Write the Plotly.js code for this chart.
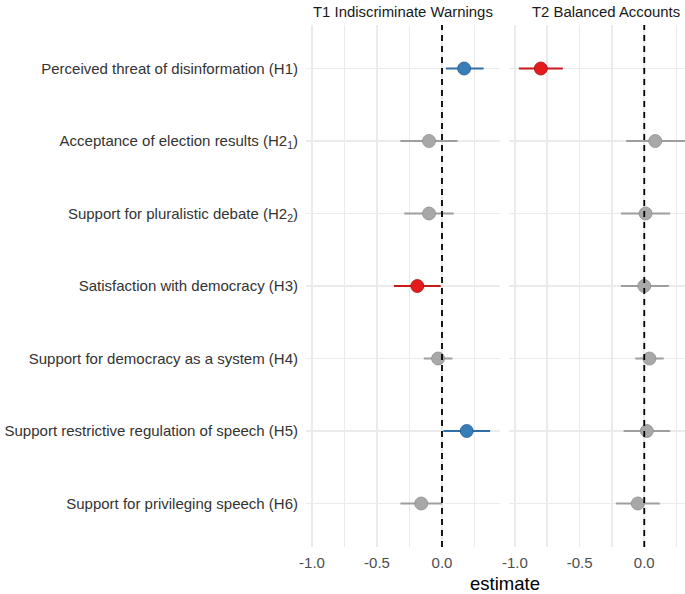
<!DOCTYPE html>
<html>
<head>
<meta charset="utf-8">
<script src="https://cdn.plot.ly/plotly-3.0.1.min.js"></script>
<style>html,body{margin:0;padding:0;background:#fff;overflow:hidden;}</style>
</head>
<body>
<div id="chart" style="width:685px;height:594px;"></div>
<script>
// ---- data ----
const categories = [
  "Perceived threat of disinformation (H1)",
  "Acceptance of election results (H2<sub>1</sub>)",
  "Support for pluralistic debate (H2<sub>2</sub>)",
  "Satisfaction with democracy (H3)",
  "Support for democracy as a system (H4)",
  "Support restrictive regulation of speech (H5)",
  "Support for privileging speech (H6)"
];
const panelTitles = ["T1 Indiscriminate Warnings", "T2 Balanced Accounts"];
const t1Est = [0.17, -0.10, -0.10, -0.19, -0.03, 0.19, -0.16];
const t1Lo  = [0.03, -0.32, -0.29, -0.37, -0.14, 0.01, -0.32];
const t1Hi  = [0.32,  0.12,  0.09, -0.01,  0.08, 0.37,  0.00];
const t2Est = [-0.80, 0.085, 0.01, 0.00, 0.04, 0.02, -0.05];
const t2Lo  = [-0.97, -0.14, -0.18, -0.18, -0.07, -0.16, -0.22];
const t2Hi  = [-0.63, 0.34, 0.20, 0.19, 0.15, 0.20, 0.12];
const xTickVals = [-1, -0.5, 0];
const xTickText = ["-1.0", "-0.5", "0.0"];

// ---- styling ----
const colPos = {fill: "#377EB8", line: "#2F6EA6", edge: "#24588A"};
const colNeg = {fill: "#E41A1C", line: "#C8191B", edge: "#A51214"};
const colNs  = {fill: "#A8A8A8", line: "#9E9E9E", edge: "#8E8E8E"};
const font = "'Liberation Sans', Arial, Helvetica, sans-serif";
const n = categories.length;
const yv = categories.map((_, i) => n - i);

function pick(lo, hi) { return lo > 0 ? colPos : (hi < 0 ? colNeg : colNs); }

const traces = [];
function addPanel(est, lo, hi, xa, ya) {
  for (let i = 0; i < n; i++) {
    const c = pick(lo[i], hi[i]);
    traces.push({
      type: "scatter", mode: "lines", x: [lo[i], hi[i]], y: [yv[i], yv[i]],
      xaxis: xa, yaxis: ya, line: {color: c.line, width: 2}, hoverinfo: "skip", showlegend: false
    });
  }
  for (let i = 0; i < n; i++) {
    const c = pick(lo[i], hi[i]);
    traces.push({
      type: "scatter", mode: "markers", x: [est[i]], y: [yv[i]],
      xaxis: xa, yaxis: ya, cliponaxis: true,
      marker: {color: c.fill, size: 13, line: {color: c.edge, width: 0.8}},
      hoverinfo: "skip", showlegend: false
    });
  }
}
addPanel(t1Est, t1Lo, t1Hi, "x", "y");
addPanel(t2Est, t2Lo, t2Hi, "x2", "y2");

const L = 306, W = 685, T = 25, B = 547;
const pw = W - L;
const d1 = [0, (500 - L) / pw];
const d2 = [(509 - L) / pw, 1];

const xCommon = {
  tickvals: xTickVals, ticktext: xTickText, showgrid: true, gridcolor: "#EBEBEB", gridwidth: 1.6,
  zeroline: false, showline: false, ticks: "", ticklabelstandoff: 5,
  tickfont: {family: font, size: 15, color: "#4D4D4D"},
  minor: {dtick: 0.25, tick0: 0, showgrid: true, gridcolor: "#EBEBEB", gridwidth: 1.6, ticks: ""},
  fixedrange: true
};
const yCommon = {
  range: [0.4, n + 0.6], tickvals: yv, showgrid: true, gridcolor: "#EBEBEB", gridwidth: 1.6,
  zeroline: false, showline: false, ticks: "", fixedrange: true
};

const layout = {
  width: 685, height: 594,
  margin: {l: L, r: 0, t: T, b: 594 - B, pad: 0},
  paper_bgcolor: "#fff", plot_bgcolor: "#fff",
  showlegend: false, hovermode: false,
  font: {family: font},
  xaxis: Object.assign({}, xCommon, {domain: d1, range: [-1.046, 0.446], anchor: "y"}),
  xaxis2: Object.assign({}, xCommon, {domain: d2, range: [-1.046, 0.315], anchor: "y2"}),
  yaxis: Object.assign({}, yCommon, {
    anchor: "x", ticktext: categories, ticklabelstandoff: 7,
    tickfont: {family: font, size: 15, color: "#333333"}
  }),
  yaxis2: Object.assign({}, yCommon, {anchor: "x2", matches: "y", showticklabels: false}),
  shapes: [
    {type: "line", xref: "x", yref: "y domain", x0: 0, x1: 0, y0: 0, y1: 1,
     line: {color: "#000", width: 1.8, dash: "6px,5px"}},
    {type: "line", xref: "x2", yref: "y2 domain", x0: 0, x1: 0, y0: 0, y1: 1,
     line: {color: "#000", width: 1.8, dash: "6px,5px"}}
  ],
  annotations: [
    {text: panelTitles[0], xref: "paper", yref: "paper", x: (403 - L) / pw, y: 1, yshift: 13,
     xanchor: "center", yanchor: "middle", showarrow: false,
     font: {family: font, size: 14.9, color: "#1A1A1A"}},
    {text: panelTitles[1], xref: "paper", yref: "paper", x: (606 - L) / pw, y: 1, yshift: 13,
     xanchor: "center", yanchor: "middle", showarrow: false,
     font: {family: font, size: 14.9, color: "#1A1A1A"}},
    {text: "estimate", xref: "paper", yref: "paper", x: (505 - L) / pw, y: 0, yshift: -36,
     xanchor: "center", yanchor: "middle", showarrow: false,
     font: {family: font, size: 18.5, color: "#000"}}
  ]
};

Plotly.newPlot("chart", traces, layout, {displayModeBar: false, staticPlot: true});
</script>
</body>
</html>
